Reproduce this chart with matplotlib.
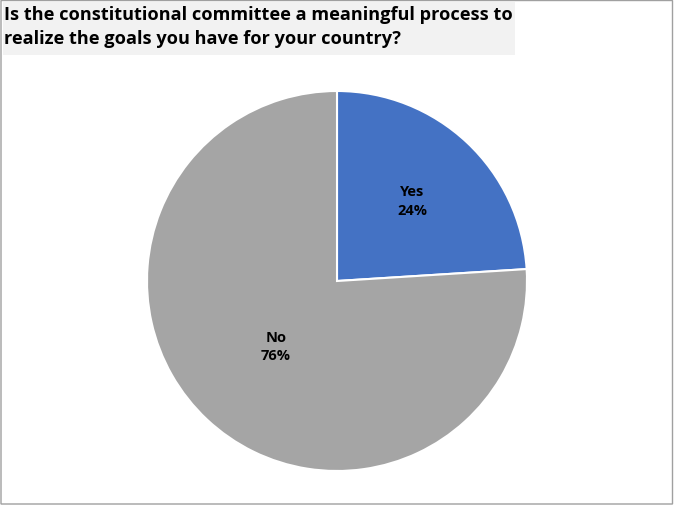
import matplotlib.pyplot as plt
from matplotlib.patches import Rectangle
import numpy as np

labels = ["Yes", "No"]
shares = [24, 76]
colors = ["#4472C4", "#A5A5A5"]
label_dist = [0.58, 0.47]

W, H = 674, 506
fig = plt.figure(figsize=(W / 100, H / 100), dpi=100)

# outer border
fig.patches.append(Rectangle((1 / W, 1 / H), (W - 2.5) / W, (H - 2.5) / H,
                             transform=fig.transFigure, facecolor="none",
                             edgecolor="#A0A0A0", linewidth=1.0, zorder=5,
                             snap=False))

# title box
fig.patches.append(Rectangle((3 / W, 1 - 56 / H), 512 / W, 53 / H,
                             transform=fig.transFigure, facecolor="#F2F2F2",
                             edgecolor="none", zorder=0))
fig.text(4 / W, 1 - 6 / H,
         "Is the constitutional committee a meaningful process to\nrealize the goals you have for your country?",
         ha="left", va="top", fontsize=13.1, fontweight="bold",
         family="Open Sans", linespacing=1.45, color="#000000")

ax = fig.add_axes([147 / W, 34 / H, 380 / W, 380 / H])
wedges, _ = ax.pie(shares, colors=colors, startangle=90, counterclock=False,
                   radius=1, wedgeprops=dict(edgecolor="white", linewidth=1.5))
ax.set_xlim(-1, 1)
ax.set_ylim(-1, 1)
ax.set_aspect("equal")

for w, lab, s, d in zip(wedges, labels, shares, label_dist):
    ang = np.deg2rad((w.theta1 + w.theta2) / 2)
    ax.text(d * np.cos(ang), d * np.sin(ang), f"{lab}\n{s}%", ha="center", va="center",
            fontsize=10.5, fontweight="bold", family="Open Sans", linespacing=1.4)

fig.savefig("out.png", dpi=100)
